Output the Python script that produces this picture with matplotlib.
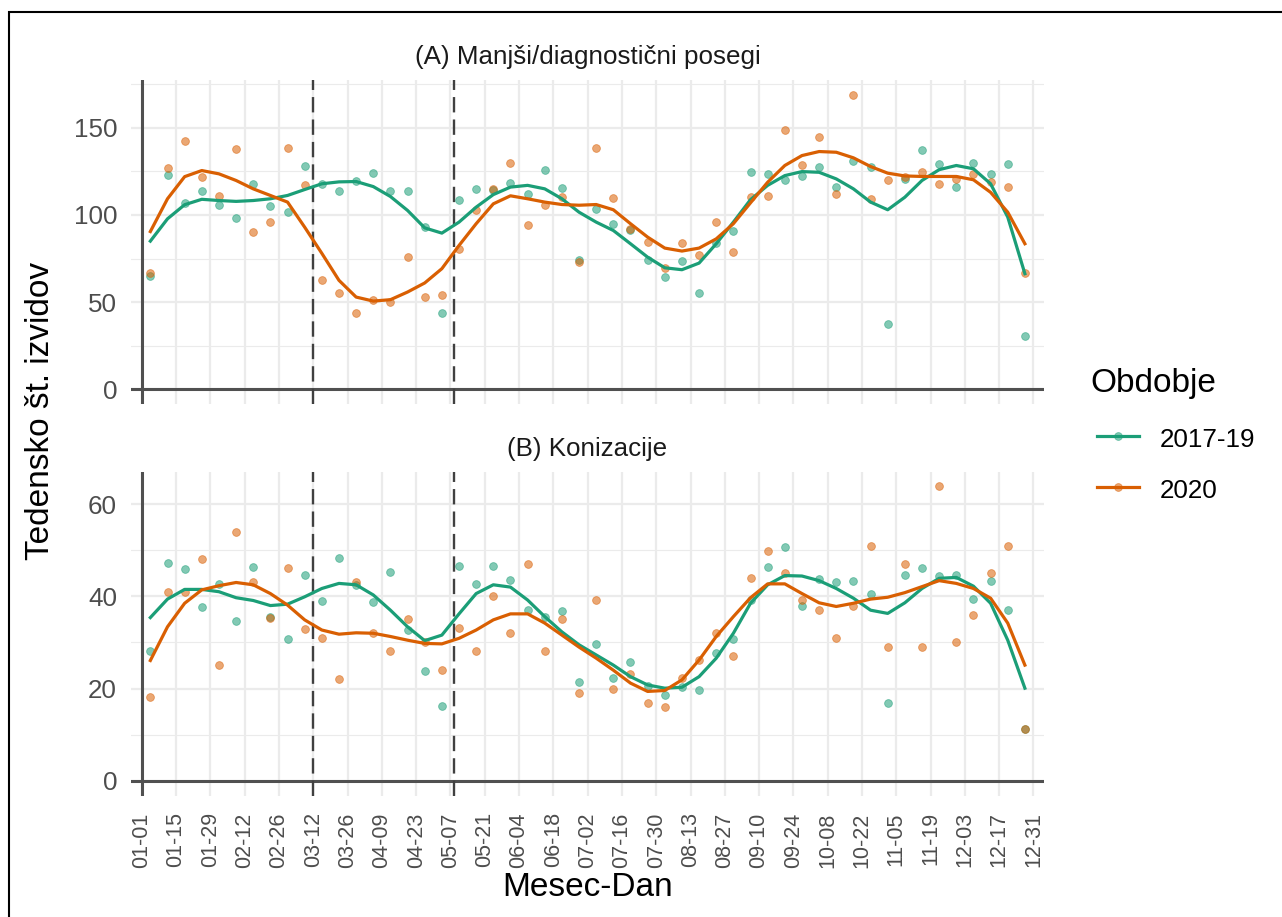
import numpy as np
import matplotlib
matplotlib.use("Agg")
import matplotlib.pyplot as plt
from matplotlib.lines import Line2D
from matplotlib.patches import Rectangle

plt.rcParams['font.family'] = ['Liberation Sans', 'DejaVu Sans']

# ---- data ----
week_idx = np.arange(52)
tick_labels = ['01-01', '01-15', '01-29', '02-12', '02-26', '03-12', '03-26', '04-09', '04-23',
               '05-07', '05-21', '06-04', '06-18', '07-02', '07-16', '07-30', '08-13', '08-27',
               '09-10', '09-24', '10-08', '10-22', '11-05', '11-19', '12-03', '12-17', '12-31']
vline_days = [70, 127.5]   # 03-12 and ~05-08

# (A) Manjši/diagnostični posegi
a_1719 = [65, 123, 107, 114, 105.5, 98, 118, 105, 101.7, 128, 117.5, 114, 119.4, 124, 114, 114,
          93, 44, 108.7, 114.8, 114.4, 118.4, 112.3, 125.9, 115.6, 74.3, 103.3, 94.7, 91.3, 74.1,
          64.2, 73.7, 55.4, 84, 90.9, 124.7, 123.8, 120, 122.4, 127.8, 116, 131.2, 127.4, 37.6,
          120.7, 137, 129, 116, 130, 123.4, 129.5, 30.6]
a_2020 = [67, 127, 142.7, 121.7, 111, 138, 90, 96, 138.7, 117, 62.7, 55, 44, 51, 50, 76,
          53, 54, 80.6, 102.6, 114.8, 129.9, 94, 105.8, 110.6, 72.8, 138.5, 109.8, 91.7, 84.6,
          69.7, 84, 77.2, 95.9, 78.7, 110.6, 110.8, 148.8, 128.7, 144.8, 112, 169, 108.9, 119.8,
          121.7, 124.9, 117.7, 120.7, 123.6, 119.2, 115.8, 66.9]
a_1719_smooth = [85, 97.8, 105.9, 109, 108.3, 107.8, 108.3, 109.3, 111.2, 114.6, 117.9, 119, 119.2,
                 116.3, 110.6, 102.6, 92.6, 89.6, 95.9, 104.5, 111.7, 116, 117, 115, 109.3, 101.6,
                 95.9, 91.1, 83.5, 75.8, 69.7, 68.6, 72.4, 83.5, 95.9, 108.8, 117, 122.6, 124.9,
                 124.5, 120.7, 115, 107.4, 103, 110.2, 119.8, 126, 128.4, 126.5, 117.9, 98.8, 66.3]
a_2020_smooth = [90.5, 109.3, 122, 125.5, 123.6, 119.8, 115, 111.2, 107.4, 93, 78, 62.5, 52.9,
                 50.6, 51.4, 55.8, 61, 69.2, 82.5, 95, 106.4, 111, 109.3, 107.4, 106, 105.6, 106,
                 103, 95, 87.3, 81, 79.3, 81, 86.3, 95, 107, 118.8, 128.4, 134.1, 136.4, 136,
                 132.8, 127.8, 124, 122.4, 122.1, 122.1, 122.1, 120.2, 113, 101.6, 83.5]

# (B) Konizacije
b_1719 = [28.1, 47.2, 46, 37.7, 42.7, 34.7, 46.4, 35.5, 30.7, 44.6, 39, 48.4, 42.5, 38.7, 45.3,
          32.7, 23.8, 16.2, 46.6, 42.6, 46.6, 43.5, 37.1, 35.5, 36.8, 21.4, 29.7, 22.3, 25.7,
          20.6, 18.7, 20.4, 19.7, 27.8, 30.7, 39.2, 46.4, 50.7, 38, 43.8, 43, 43.4, 40.6, 16.8,
          44.6, 46.1, 44.4, 44.7, 39.4, 43.4, 37, 11.2]
b_2020 = [18.2, 41, 41, 48, 25.1, 53.9, 43, 35.2, 46.1, 33, 31, 22, 43, 32.1, 28.1, 35, 30, 24,
          33.1, 28.1, 40, 32.1, 46.9, 28.1, 35, 19.1, 39.1, 20, 23.2, 17, 16.1, 22.2, 26.1, 32.1,
          27.1, 44, 49.9, 45, 39.1, 37, 31, 37.9, 51, 29, 46.9, 29, 63.8, 30.1, 36, 45, 51, 11.2]
b_1719_smooth = [35.4, 39.4, 41.5, 41.5, 41, 39.7, 39.1, 38, 38.3, 39.9, 41.7, 42.8, 42.5, 40.3,
                 37, 33.4, 30.4, 31.6, 36.2, 40.6, 42.5, 42, 39.2, 35.6, 32.3, 29.5, 27.3, 25.1,
                 22.6, 20.8, 20.1, 20.3, 22.6, 26.6, 32, 38.5, 42.5, 44.5, 44.4, 43.4, 41.7, 39.6,
                 37, 36.3, 38.6, 41.7, 43.9, 44.1, 42.2, 38.5, 30.5, 20.1]
b_2020_smooth = [26.1, 33.4, 38.5, 41.4, 42.3, 43, 42.5, 40.6, 38.1, 34.9, 32.7, 31.8, 32.1, 32,
                 31.3, 30.5, 29.8, 29.7, 30.9, 32.7, 34.9, 36.2, 36.2, 34.2, 31.6, 29, 26.6, 24,
                 21.2, 19.4, 19.6, 21.9, 26.2, 31.3, 35.6, 39.7, 42.7, 42.7, 40.6, 38.6, 37.8, 38.5,
                 39.4, 39.8, 40.8, 42.1, 43.4, 42.8, 41.7, 39.6, 34.2, 25.1]

series_names = ['2017-19', '2020']
colors = ['#1B9E77', '#D95F02']

# x position of each weekly value in days from 01-01
week_days = 3.5 + 7 * week_idx
tick_days = 14 * np.arange(len(tick_labels))

W, H = 1282, 917
fig = plt.figure(figsize=(W / 100, H / 100), dpi=100)
axA = fig.add_axes([131 / W, 1 - 404 / H, 913 / W, 324 / H])
axB = fig.add_axes([131 / W, 1 - 795.7 / H, 913 / W, 324 / H])

panels = [
    (axA, '(A) Manjši/diagnostični posegi', [a_1719, a_2020], [a_1719_smooth, a_2020_smooth],
     (-8.45, 177.45), [0, 50, 100, 150], [25, 75, 125, 175]),
    (axB, '(B) Konizacije', [b_1719, b_2020], [b_1719_smooth, b_2020_smooth],
     (-3.19, 67.0), [0, 20, 40, 60], [10, 30, 50]),
]

for ax, title, pts, smooth, ylim, yt, ymin in panels:
    ax.set_xlim(-4.4, 368.3)
    ax.set_ylim(*ylim)
    for s in ax.spines.values():
        s.set_visible(False)
    ax.set_xticks(tick_days)
    ax.set_xticklabels(tick_labels, rotation=90)
    ax.set_yticks(yt)
    ax.set_yticks(ymin, minor=True)
    ax.grid(which='major', color='#EBEBEB', lw=1.6, zorder=0)
    ax.grid(which='minor', axis='y', color='#EBEBEB', lw=0.8, zorder=0)
    ax.set_axisbelow(True)
    ax.tick_params(which='both', length=0)
    ax.tick_params(axis='y', labelsize=18.7, labelcolor='#4D4D4D', pad=10)
    ax.tick_params(axis='x', labelsize=15.5, labelcolor='#4D4D4D', pad=12)

    ax.axhline(0, color='#505050', lw=2.2, zorder=2)
    ax.axvline(0, color='#505050', lw=2.2, zorder=2)
    for d in vline_days:
        ax.axvline(d, color='#404040', lw=1.7, ls=(0, (6.5, 3)), zorder=2)

    for vals, c in zip(pts, colors):
        ax.plot(week_days, vals, 'o', color=c, ms=5.6, alpha=0.55, mec=c, mew=0.6, zorder=3)
    for vals, c in zip(smooth, colors):
        ax.plot(week_days, vals, '-', color=c, lw=2.3, zorder=4)

    ax.text(0.5, 1 + 16 / 324, title, transform=ax.transAxes, ha='center', va='baseline',
            fontsize=18.7, color='#1A1A1A')

axA.tick_params(axis='x', labelbottom=False)

fig.text(41 / W, 1 - 411 / H, 'Tedensko št. izvidov', rotation=90, ha='center', va='center',
         fontsize=24, color='black')
fig.text(588 / W, 1 - 888 / H, 'Mesec-Dan', ha='center', va='center', fontsize=24, color='black')

# legend
fig.text(1090 / W, 1 - 392 / H, 'Obdobje', ha='left', va='baseline', fontsize=24, color='black')
key_y = [435.7, 487.3]
for name, c, ky in zip(series_names, colors, key_y):
    fig.add_artist(Line2D([1097 / W, 1139 / W], [1 - ky / H, 1 - ky / H], color=c, lw=2.3,
                          transform=fig.transFigure))
    fig.add_artist(Line2D([1118 / W], [1 - ky / H], marker='o', color=c, ms=5.6, alpha=0.55,
                          mec=c, mew=0.6, transform=fig.transFigure))
    fig.text(1160 / W, 1 - (ky + 11) / H, name, ha='left', va='baseline', fontsize=18.7,
             color='black')

fig.add_artist(Rectangle((9 / W, -0.1), 1.2, 1.1 - 12 / H, transform=fig.transFigure,
                         fill=False, ec='black', lw=1.5))

fig.savefig('out.png', dpi=100)
